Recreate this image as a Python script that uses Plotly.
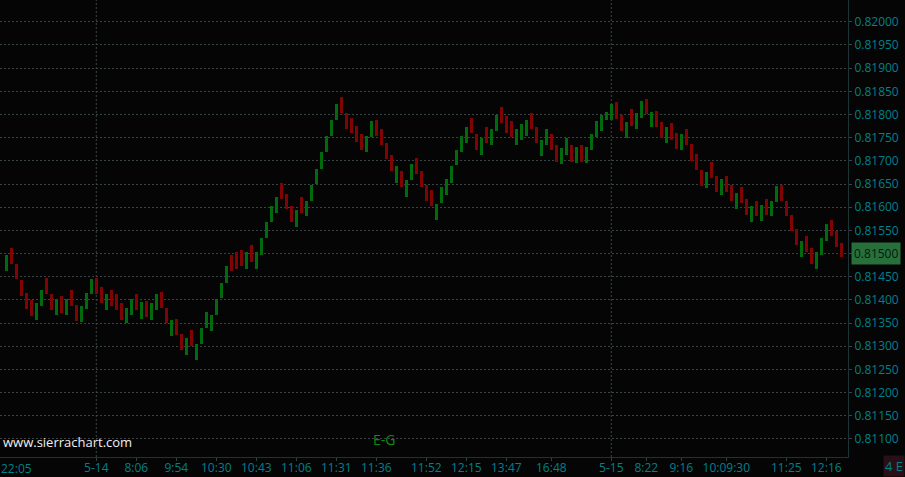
import plotly.graph_objects as go

# ---- data ----
opens = [
    0.81463, 0.81512, 0.81477, 0.81443, 0.81415, 0.81400, 0.81357, 0.81387, 0.81447, 0.81413,
    0.81368, 0.81408, 0.81368, 0.81421, 0.81389, 0.81353, 0.81381, 0.81413, 0.81448, 0.81428,
    0.81379, 0.81421, 0.81413, 0.81393, 0.81349, 0.81368, 0.81413, 0.81359, 0.81397, 0.81357,
    0.81379, 0.81417, 0.81382, 0.81323, 0.81359, 0.81326, 0.81282, 0.81335, 0.81271, 0.81305,
    0.81340, 0.81333, 0.81368, 0.81403, 0.81437, 0.81497, 0.81503, 0.81508, 0.81467, 0.81518,
    0.81467, 0.81497, 0.81534, 0.81569, 0.81588, 0.81652, 0.81628, 0.81603, 0.81558, 0.81622,
    0.81580, 0.81614, 0.81649, 0.81683, 0.81720, 0.81754, 0.81789, 0.81838, 0.81803, 0.81792,
    0.81775, 0.81758, 0.81720, 0.81752, 0.81788, 0.81769, 0.81738, 0.81713, 0.81653, 0.81678,
    0.81623, 0.81659, 0.81706, 0.81678, 0.81648, 0.81637, 0.81573, 0.81608, 0.81627, 0.81653,
    0.81690, 0.81720, 0.81739, 0.81792, 0.81758, 0.81713, 0.81773, 0.81735, 0.81765, 0.81816,
    0.81797, 0.81786, 0.81735, 0.81744, 0.81754, 0.81803, 0.81773, 0.81711, 0.81735, 0.81758,
    0.81734, 0.81694, 0.81713, 0.81734, 0.81696, 0.81734, 0.81696, 0.81724, 0.81752, 0.81765,
    0.81789, 0.81789, 0.81827, 0.81799, 0.81750, 0.81812, 0.81769, 0.81793, 0.81834, 0.81772,
    0.81808, 0.81784, 0.81739, 0.81782, 0.81760, 0.81724, 0.81769, 0.81736, 0.81715, 0.81680,
    0.81642, 0.81698, 0.81667, 0.81627, 0.81667, 0.81648, 0.81597, 0.81644, 0.81618, 0.81569,
    0.81613, 0.81571, 0.81618, 0.81580, 0.81612, 0.81648, 0.81613, 0.81583, 0.81553, 0.81493,
    0.81538, 0.81512, 0.81467, 0.81497, 0.81528, 0.81572, 0.81549, 0.81523,
]
closes = [
    0.81497, 0.81478, 0.81444, 0.81409, 0.81381, 0.81366, 0.81393, 0.81421, 0.81413, 0.81379,
    0.81402, 0.81372, 0.81402, 0.81387, 0.81355, 0.81387, 0.81415, 0.81445, 0.81413, 0.81394,
    0.81413, 0.81387, 0.81379, 0.81357, 0.81382, 0.81402, 0.81379, 0.81395, 0.81363, 0.81393,
    0.81413, 0.81383, 0.81349, 0.81356, 0.81325, 0.81292, 0.81318, 0.81301, 0.81305, 0.81339,
    0.81374, 0.81367, 0.81402, 0.81436, 0.81473, 0.81463, 0.81467, 0.81474, 0.81503, 0.81482,
    0.81503, 0.81533, 0.81568, 0.81603, 0.81622, 0.81618, 0.81595, 0.81569, 0.81594, 0.81588,
    0.81613, 0.81648, 0.81682, 0.81719, 0.81754, 0.81788, 0.81823, 0.81804, 0.81769, 0.81759,
    0.81741, 0.81724, 0.81754, 0.81786, 0.81754, 0.81735, 0.81705, 0.81679, 0.81689, 0.81644,
    0.81659, 0.81693, 0.81672, 0.81644, 0.81614, 0.81603, 0.81607, 0.81644, 0.81661, 0.81689,
    0.81723, 0.81754, 0.81773, 0.81759, 0.81724, 0.81749, 0.81739, 0.81769, 0.81799, 0.81782,
    0.81761, 0.81752, 0.81769, 0.81780, 0.81788, 0.81769, 0.81739, 0.81745, 0.81769, 0.81724,
    0.81698, 0.81728, 0.81749, 0.81698, 0.81730, 0.81698, 0.81730, 0.81758, 0.81786, 0.81799,
    0.81805, 0.81823, 0.81791, 0.81765, 0.81784, 0.81776, 0.81803, 0.81829, 0.81800, 0.81805,
    0.81774, 0.81750, 0.81773, 0.81746, 0.81726, 0.81758, 0.81735, 0.81700, 0.81681, 0.81646,
    0.81676, 0.81664, 0.81633, 0.81661, 0.81633, 0.81614, 0.81631, 0.81608, 0.81584, 0.81603,
    0.81580, 0.81605, 0.81584, 0.81613, 0.81646, 0.81614, 0.81580, 0.81549, 0.81519, 0.81527,
    0.81504, 0.81478, 0.81503, 0.81533, 0.81564, 0.81538, 0.81513, 0.81493,
]
tick_bars = [19, 27, 35, 43, 51, 59, 67, 75, 85, 93, 101, 110, 122, 129, 136, 145, 157, 165]
tick_labels = ["5-14", "8:06", "9:54", "10:30", "10:43", "11:06", "11:31", "11:36", "11:52",
               "12:15", "13:47", "16:48", "5-15", "8:22", "9:16", "10:09:30", "11:25", "12:16"]
first_label = "22:05"
day_breaks = [19, 122]
price_ticks = [0.811 + 0.0005 * k for k in range(19)]
last_price_label = 0.815

# ---- styling ----
GREEN = "#006a0c"
RED = "#800404"
BG = "#050505"
GRID = "#3a4446"
TEAL = "#00808a"
FONT = "Open Sans"

bars = list(range(1, len(opens) + 1))
bases = [min(o, c) for o, c in zip(opens, closes)]
heights = [abs(c - o) for o, c in zip(opens, closes)]
colors = [GREEN if c >= o else RED for o, c in zip(opens, closes)]

fig = go.Figure()
fig.add_trace(go.Bar(
    x=bars, y=heights, base=bases, width=0.62,
    marker=dict(color=colors, line=dict(width=0)),
    hoverinfo="skip", showlegend=False,
))

shapes = []
for b in day_breaks:
    shapes.append(dict(type="line", xref="x", yref="paper", x0=b, x1=b, y0=0, y1=1,
                       line=dict(color=GRID, width=1, dash="2px,2px"), layer="below"))

annotations = [
    dict(text=first_label, xref="x", yref="paper", x=1, y=0, xanchor="left", yanchor="top",
         xshift=-7, yshift=-1, showarrow=False, font=dict(family=FONT, size=12, color=TEAL)),
    dict(text="0.81500", xref="paper", yref="y", x=1, y=last_price_label, xanchor="left",
         yanchor="middle", xshift=3, showarrow=False, bgcolor="#27703c", borderpad=2,
         font=dict(family=FONT, size=12, color="#0a160c")),
    dict(text="4 E", xref="paper", yref="paper", x=1.0672, y=-0.0437, xanchor="right",
         yanchor="bottom", showarrow=False, bgcolor="#2a1016", borderpad=1,
         font=dict(family=FONT, size=13, color=TEAL)),
    dict(text="www.sierrachart.com", xref="paper", yref="paper", x=0, y=0.033, xanchor="left",
         yanchor="middle", xshift=1, showarrow=False,
         font=dict(family=FONT, size=13, color="#f0f0f0")),
    dict(text="E-G", xref="paper", yref="paper", x=0.4528, y=0.039, xanchor="center",
         yanchor="middle", showarrow=False,
         font=dict(family=FONT, size=14, color="#0e8c12")),
]

fig.update_layout(
    width=905, height=477,
    margin=dict(l=0, r=57, t=0, b=20, autoexpand=False),
    paper_bgcolor=BG, plot_bgcolor=BG,
    bargap=0, shapes=shapes, annotations=annotations,
    xaxis=dict(
        range=[-0.26, 169.34], tickmode="array", tickvals=tick_bars, ticktext=tick_labels,
        showgrid=False, zeroline=False, showline=True, linecolor="#1c3436", linewidth=1,
        ticks="outside", ticklen=3, tickcolor="#2c4446", ticklabelstandoff=-3,
        tickfont=dict(family=FONT, size=12, color=TEAL), fixedrange=True,
    ),
    yaxis=dict(
        side="right", range=[0.810608, 0.820471], tickmode="array", tickvals=price_ticks,
        tickformat=".5f", showgrid=True, gridcolor=GRID, griddash="2px,2px", gridwidth=1,
        zeroline=False, showline=True, linecolor="#1c3436", linewidth=1,
        ticks="outside", ticklen=3, tickcolor=GRID,
        tickfont=dict(family=FONT, size=12, color=TEAL), fixedrange=True,
    ),
)

fig.write_html(
    "out.html",
    config={"displayModeBar": False},
    post_script="document.body.style.margin='0';document.body.style.padding='0';"
                "document.body.style.background='#050505';",
)
